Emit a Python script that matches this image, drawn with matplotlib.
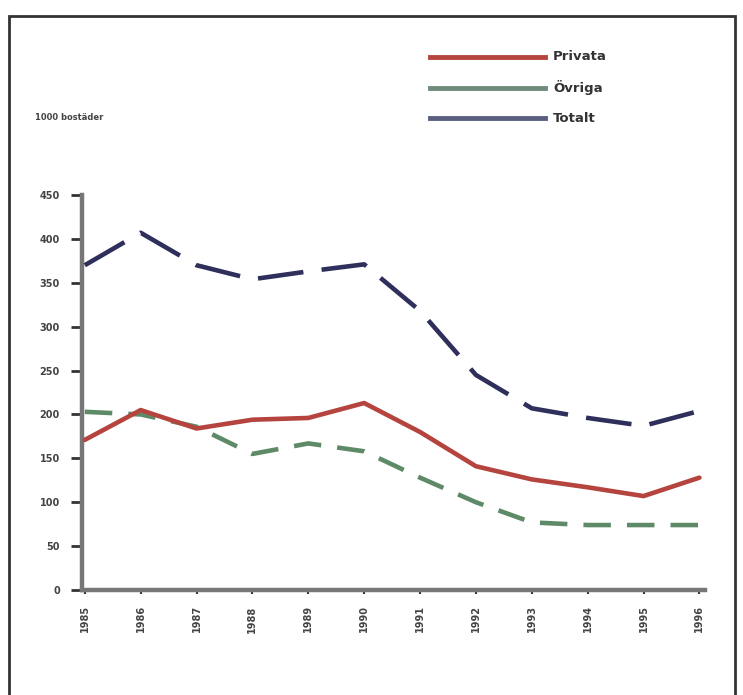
import matplotlib
matplotlib.use("Agg")
import matplotlib.pyplot as plt
from matplotlib.patches import Rectangle

# data (1000-tal)
years = ["1985", "1986", "1987", "1988", "1989", "1990",
         "1991", "1992", "1993", "1994", "1995", "1996"]
privata = [171, 205, 184, 194, 196, 213, 180, 141, 126, 117, 107, 128]
ovriga = [203, 200, 186, 155, 167, 158, 128, 100, 77, 74, 74, 74]
totalt = [370, 407, 370, 354, 363, 371, 318, 245, 207, 196, 187, 204]
yticks = [0, 50, 100, 150, 200, 250, 300, 350, 400, 450]

fig = plt.figure(figsize=(7.43, 6.95), dpi=100)
ax = fig.add_axes([82 / 743, 1 - 590 / 695, (705 - 82) / 743, (590 - 195) / 695])

x = list(range(len(years)))
ax.plot(x, privata, color="#b5443f", lw=3.3, solid_capstyle="round", zorder=3)
ax.plot(x, ovriga, color="#5f8a68", lw=3.3, dashes=(6, 3.5), zorder=2)
ax.plot(x, totalt, color="#2f2f5c", lw=3.3, dashes=(10, 4), zorder=4)

ax.set_xlim(-0.05, 11.1)
ax.set_ylim(0, 450)
ax.set_yticks(yticks)
ax.set_yticklabels([str(v) for v in yticks], fontsize=7, color="#444", fontweight="bold")
ax.set_xticks(x)
ax.set_xticklabels(years, rotation=90, fontsize=7, color="#444", fontweight="bold")
ax.tick_params(axis="y", length=8, width=2, color="#333", pad=8)
ax.tick_params(axis="x", length=3, width=1.5, color="#333", pad=8)

for s in ["top", "right"]:
    ax.spines[s].set_visible(False)
for s in ["left", "bottom"]:
    ax.spines[s].set_color("#777777")
    ax.spines[s].set_linewidth(3.2)

# legend drawn by hand at the top right
leg_items = [("Privata", "#b5443f"), ("Övriga", "#6f8a78"), ("Totalt", "#5a5f80")]
for i, (name, col) in enumerate(leg_items):
    yy = 1 - (57 + i * 30.5) / 695
    fig.add_artist(plt.Line2D([430 / 743, 545 / 743], [yy, yy], color=col, lw=3.5,
                              transform=fig.transFigure))
    fig.text(553 / 743, yy, name, fontsize=9.5, fontweight="bold", color="#333",
             va="center", ha="left")

fig.text(35 / 743, 1 - 117 / 695, "1000 bostäder", fontsize=6, fontweight="bold",
         color="#444", va="center", ha="left")

# frame around the chart
fig.add_artist(Rectangle((9 / 743, -0.01), (735 - 9) / 743, 1 - 16 / 695 + 0.01,
                         transform=fig.transFigure, fill=False, edgecolor="#333", lw=2))

fig.savefig("out.png", dpi=100)
